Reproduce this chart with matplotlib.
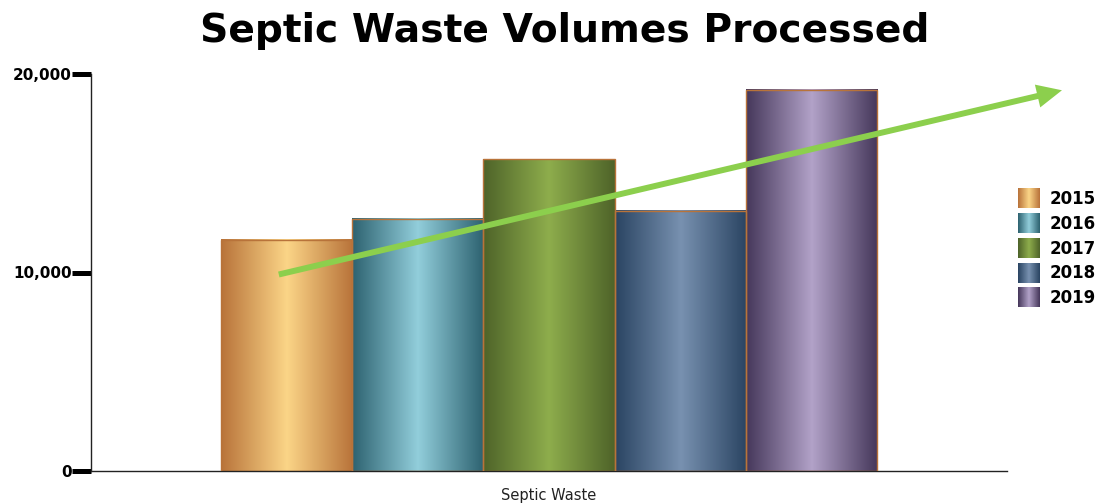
import numpy as np
import matplotlib
matplotlib.use("Agg")
import matplotlib.pyplot as plt
from matplotlib.colors import LinearSegmentedColormap
from matplotlib.legend_handler import HandlerBase
from matplotlib.image import BboxImage
from matplotlib.transforms import Bbox, TransformedBbox
from matplotlib.patches import Patch

# ---- data ----
category = "Septic Waste"
years = ["2015", "2016", "2017", "2018", "2019"]
values = [11650, 12700, 15700, 13100, 19200]
yticks = [0, 10000, 20000]
ytick_labels = ["0", "10,000", "20,000"]
title = "Septic Waste Volumes Processed"
# trend arrow (data coordinates: x offset within category, y value)
arrow_start = (-0.295, 9900)
arrow_end = (0.56, 19180)

# ---- styles ----
edge_colors = ["#B8733A", "#2D6270", "#4E6329", "#2A4462", "#45375A"]
mid_colors = ["#FBD587", "#92CEDB", "#8EAD4C", "#7891B0", "#B2A2C8"]
bar_edge = "#B8733A"
arrow_color = "#8CCF4D"

fig = plt.figure(figsize=(10.99, 5.03), dpi=100)
ax = fig.add_axes([91/1099, 32/503, (1007-91)/1099, (471-74)/503])

group_w = 0.717
bw = group_w / len(years)
xs = [-group_w/2 + bw*(i+0.5) for i in range(len(years))]

def grad_img(c0, c1, n=256):
    cmap = LinearSegmentedColormap.from_list("g", [c0, c1, c0])
    g = np.linspace(0, 1, n)[None, :]
    return cmap(g)

for i, (x, v) in enumerate(zip(xs, values)):
    img = grad_img(edge_colors[i], mid_colors[i])
    ax.imshow(img, extent=(x-bw/2, x+bw/2, 0, v), aspect='auto', interpolation='bilinear', zorder=2)
    ax.bar(x, v, width=bw, facecolor='none', edgecolor=bar_edge, linewidth=1.0, zorder=3)
ax.set_xlim(-0.5, 0.5)
ax.set_ylim(0, 20000)
ax.set_aspect('auto')

ax.annotate('', xy=arrow_end, xytext=arrow_start,
            arrowprops=dict(arrowstyle='-|>,head_length=0.6,head_width=0.28', mutation_scale=18,
                            lw=4.3, color=arrow_color, shrinkA=0, shrinkB=0,
                            joinstyle='miter', capstyle='butt'),
            annotation_clip=False, zorder=5)

for s in ['top', 'right']:
    ax.spines[s].set_visible(False)
for s in ['left', 'bottom']:
    ax.spines[s].set_color('#222222')
    ax.spines[s].set_linewidth(1.0)

ax.set_yticks(yticks)
ax.set_yticklabels(ytick_labels, fontsize=11, fontweight='bold')
ax.tick_params(axis='y', direction='out', length=14, width=3.6, pad=0, color='black')
ax.set_xticks([0])
ax.set_xticklabels([category], fontsize=10.5, color='#222222')
ax.tick_params(axis='x', length=0, pad=12)

fig.text(565/1099, 1-31/503, title, ha='center', va='center', fontsize=28.3, fontweight='bold')

class GradHandler(HandlerBase):
    def __init__(self, c0, c1):
        super().__init__()
        self.c0, self.c1 = c0, c1
    def create_artists(self, legend, orig_handle, xdescent, ydescent, width, height, fontsize, trans):
        bb = TransformedBbox(Bbox.from_bounds(-xdescent, -ydescent, width, height), trans)
        im = BboxImage(bb, interpolation='bilinear')
        im.set_data(grad_img(self.c0, self.c1, 64))
        return [im]

handles = [Patch(label=y) for y in years]
hmap = {h: GradHandler(edge_colors[i], mid_colors[i]) for i, h in enumerate(handles)}
leg = fig.legend(handles=handles, labels=years, handler_map=hmap, loc='center left',
                 bbox_to_anchor=(1018/1099, 1-248/503), frameon=False, borderpad=0,
                 borderaxespad=0, handlelength=1.32, handleheight=1.4, labelspacing=0.34,
                 handletextpad=0.6, prop=dict(size=12, weight='bold'))

fig.savefig("out.png", dpi=100)
